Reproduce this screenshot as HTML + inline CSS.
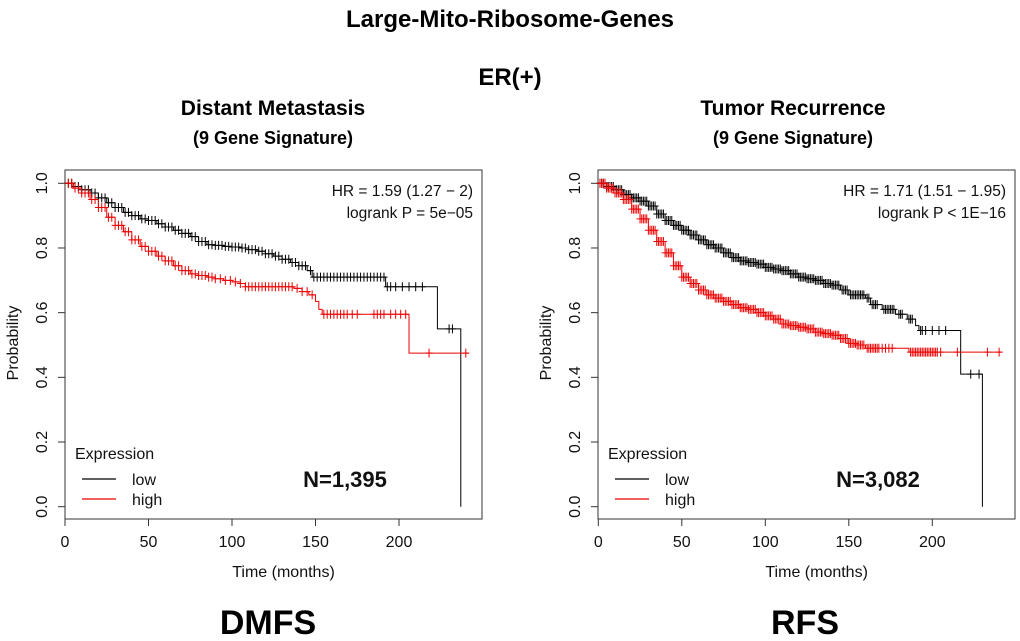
<!DOCTYPE html>
<html><head><meta charset="utf-8"><style>
body{margin:0;background:#fff;}
svg{display:block;font-family:"Liberation Sans",sans-serif;}
.b{font-weight:bold;}
</style></head><body>
<svg id="c" width="1020" height="641">
<text x="510" y="27" text-anchor="middle" class="b" font-size="24">Large-Mito-Ribosome-Genes</text>
<text x="510" y="85" text-anchor="middle" class="b" font-size="24">ER(+)</text>
<text x="273" y="115" text-anchor="middle" class="b" font-size="21">Distant Metastasis</text>
<text x="273" y="144" text-anchor="middle" class="b" font-size="18">(9 Gene Signature)</text>
<text x="793" y="115" text-anchor="middle" class="b" font-size="21">Tumor Recurrence</text>
<text x="793" y="144" text-anchor="middle" class="b" font-size="18">(9 Gene Signature)</text>
<text x="268" y="634" text-anchor="middle" class="b" font-size="34">DMFS</text>
<text x="805" y="634" text-anchor="middle" class="b" font-size="34">RFS</text>
</svg>
<script>
const xTicks=[0,50,100,150,200];
const yTicks=[0,0.2,0.4,0.6,0.8,1.0];
const yTickLabels=["0.0","0.2","0.4","0.6","0.8","1.0"];
// Left panel (DMFS)
const dmfsLowT=[0,5,10,15,20,25,30,35,40,45,50,55,60,65,70,75,80,85,90,95,100,105,110,115,120,125,130,135,140,145,148,192,223,237];
const dmfsLowS=[1,0.99,0.98,0.97,0.955,0.94,0.925,0.91,0.9,0.89,0.885,0.875,0.865,0.855,0.845,0.835,0.82,0.81,0.808,0.805,0.803,0.80,0.795,0.79,0.782,0.775,0.765,0.755,0.745,0.73,0.71,0.68,0.55,0];
const dmfsLowEnd=237;
const dmfsLowCens=[2,4,6,8,10,12,14,16,18,20,22,24,26,28,30,32,34,36,38,40,42,44,46,48,50,52,54,56,58,60,62,64,66,68,70,72,74,76,78,80,82,84,86,88,90,92,94,96,98,100,102,104,106,108,110,112,114,116,118,120,122,124,126,128,130,132,134,136,138,140,142,144,147,149,151,153,155,157,159,161,163,165,167,169,171,173,175,177,179,181,183,185,187,189,191,193,195,198,202,206,210,214,230,232];
const dmfsHighT=[0,5,10,15,20,25,30,35,40,45,50,55,60,65,70,75,80,85,90,95,100,105,108,137,142,146,150,152,154,206];
const dmfsHighS=[1,0.985,0.97,0.95,0.925,0.895,0.87,0.85,0.825,0.805,0.79,0.775,0.76,0.745,0.73,0.72,0.715,0.71,0.705,0.70,0.695,0.69,0.68,0.675,0.665,0.655,0.635,0.61,0.595,0.475];
const dmfsHighEnd=242;
const dmfsHighCens=[2,4,6,8,10,12,14,16,18,20,22,24,26,28,30,32,34,36,38,40,42,44,46,48,50,52,54,56,58,60,62,64,66,68,70,72,74,76,78,80,82,84,86,88,90,93,96,99,102,105,108,110,112,114,116,118,120,122,124,126,128,130,132,134,136,139,142,145,148,155,157,159,161,163,165,167,169,172,175,185,187,189,191,195,198,201,204,218,240];
// Right panel (RFS)
const rfsLowT=[0,5,10,15,20,25,30,35,40,45,50,55,60,65,70,75,80,85,90,95,100,105,110,115,120,125,130,135,140,145,150,160,163,170,178,185,190,192,217,230];
const rfsLowS=[1,0.99,0.98,0.965,0.955,0.945,0.93,0.905,0.885,0.87,0.855,0.84,0.825,0.81,0.80,0.785,0.77,0.76,0.755,0.75,0.74,0.735,0.73,0.72,0.71,0.705,0.70,0.69,0.685,0.67,0.655,0.645,0.625,0.61,0.595,0.58,0.56,0.545,0.41,0];
const rfsLowEnd=230;
const rfsLowCens=[1,2,3,4,5,6,7,8,9,10,11,12,13,14,15,16,17,18,19,20,21,22,23,24,25,26,27,28,29,30,31,32,33,34,35,36,37,38,39,40,41,42,43,44,45,46,47,48,49,50,51,52,53,54,55,56,57,58,59,60,61,62,63,64,65,66,67,68,69,70,71,72,73,74,75,76,77,78,79,80,81,82,83,84,85,86,87,88,89,90,91,92,93,94,95,96,97,98,99,100,101,102,103,104,105,106,107,108,109,110,111,112,113,114,115,116,117,118,119,120,121,122,123,124,125,126,127,128,129,130,131,132,133,134,135,136,137,138,139,140,141,142,143,144,146,147,148,149,151,152,153,154,155,156,157,158,159,161,162,164,165,166,167,171,172,173,174,175,176,177,180,181,182,186,187,188,193,194,196,200,204,208,223,228];
const rfsHighT=[0,5,10,15,20,25,30,35,40,45,50,55,60,65,70,75,80,85,90,95,100,105,110,115,120,125,130,135,140,145,150,155,160,186];
const rfsHighS=[1,0.985,0.97,0.95,0.92,0.89,0.855,0.82,0.785,0.745,0.71,0.69,0.67,0.655,0.645,0.635,0.625,0.615,0.61,0.60,0.59,0.58,0.565,0.56,0.555,0.55,0.54,0.535,0.53,0.52,0.505,0.50,0.49,0.478];
const rfsHighEnd=242;
const rfsHighCens=[1,2,3,4,5,6,7,8,9,10,11,12,13,14,15,16,17,18,19,20,21,22,23,24,25,26,27,28,29,30,31,32,33,34,35,36,37,38,39,40,41,42,43,44,45,46,47,48,49,50,51,52,53,54,55,56,57,58,59,60,61,62,63,64,65,66,67,68,69,70,71,72,73,74,75,76,77,78,79,80,81,82,83,84,85,86,87,88,89,90,91,92,93,94,95,96,97,98,99,100,101,102,103,104,105,106,107,108,109,110,111,112,113,114,115,116,117,118,119,120,121,122,123,124,125,126,127,128,129,130,131,132,133,134,135,136,137,138,139,140,141,142,143,144,145,146,147,148,149,150,151,152,153,154,155,156,157,158,159,161,162,163,164,165,166,167,168,170,172,174,176,187,188,189,190,191,192,193,194,195,196,197,198,199,200,201,202,203,205,215,233,240];

const NS="http://www.w3.org/2000/svg";
const svg=document.getElementById('c');
function mk(tag,attrs,parent){const e=document.createElementNS(NS,tag);for(const k in attrs)e.setAttribute(k,attrs[k]);(parent||svg).appendChild(e);return e;}

function panel(o){
  const g=mk('g',{});
  
  
  const X=t=>o.x0+t*(o.x200-o.x0)/200;
  const Y=s=>o.y0-s*(o.y0-o.y1);
  const box=mk('rect',{x:o.bl,y:170,width:o.br-o.bl,height:349,fill:'none',stroke:'#333','stroke-width':1},g);
  
  xTicks.forEach(v=>{
    const l=mk('line',{x1:X(v),x2:X(v),y1:519,y2:526,stroke:'#333'},g);
    
    const t=mk('text',{x:X(v),y:547,'text-anchor':'middle','font-size':16,fill:'#111'},g);t.textContent=v;
    
  });
  yTicks.forEach((v,i)=>{
    const l=mk('line',{x1:o.bl-7,x2:o.bl,y1:Y(v),y2:Y(v),stroke:'#333'},g);
    
    const t=mk('text',{x:0,y:0,'text-anchor':'middle','font-size':16,fill:'#111',transform:`translate(${o.bl-18},${Y(v)}) rotate(-90)`},g);t.textContent=yTickLabels[i];
    
  });
  let t=mk('text',{x:0,y:0,'text-anchor':'middle','font-size':16,fill:'#111',transform:`translate(${o.bl-47},${(Y(0)+Y(1))/2-2}) rotate(-90)`},g);t.textContent='Probability';
  
  t=mk('text',{x:(X(0)+o.br)/2+10,y:577,'text-anchor':'middle','font-size':16,fill:'#111'},g);t.textContent='Time (months)';
  
  t=mk('text',{x:o.br-9,y:196,'text-anchor':'end','font-size':15.5,fill:'#111'},g);t.textContent=o.hr;
  
  t=mk('text',{x:o.br-9,y:218,'text-anchor':'end','font-size':15.5,fill:'#111'},g);t.textContent=o.p;
  
  t=mk('text',{x:o.bl+10,y:459,'font-size':16,fill:'#111'},g);t.textContent='Expression';
  
  [['low','#000',479],['high','#e00',499]].forEach(([lab,col,yy])=>{
    const l=mk('line',{x1:o.bl+17,x2:o.bl+51,y1:yy,y2:yy,stroke:col,'stroke-width':1.2},g);
    
    const tt=mk('text',{x:o.bl+67,y:yy+6,'font-size':16,fill:'#111'},g);tt.textContent=lab;
    
  });
  t=mk('text',{x:o.bl+280,y:487,'text-anchor':'middle','font-size':22,'font-weight':'bold',fill:'#111'},g);t.textContent=o.n;
  
  o.series.forEach(s=>{
    let d=`M${X(s.T[0])},${Y(s.S[0])}`;
    for(let i=1;i<s.T.length;i++){d+=`H${X(s.T[i])}V${Y(s.S[i])}`;}
    if(s.end>s.T[s.T.length-1])d+=`H${X(s.end)}`;
    const p=mk('path',{d:d,fill:'none',stroke:s.col,'stroke-width':1},g);
    
    const sv=tt=>{let v=s.S[0];for(let i=0;i<s.T.length;i++){if(s.T[i]<=tt)v=s.S[i];}return v;};
    let cd='';
    s.C.forEach(c=>{const cx=X(c),cy=Y(sv(c));cd+=`M${cx-3.5},${cy}H${cx+3.5}M${cx},${cy-4.5}V${cy+4.5}`;});
    const cp=mk('path',{d:cd,fill:'none',stroke:s.col,'stroke-width':1},g);
    
  });
}
panel({name:'dmfs-panel',bl:65,br:482,x0:65,x200:399,y0:506.7,y1:183.3,hr:'HR = 1.59 (1.27 − 2)',p:'logrank P = 5e−05',n:'N=1,395',
  series:[{label:'low',col:'#000',T:dmfsLowT,S:dmfsLowS,end:dmfsLowEnd,C:dmfsLowCens},{label:'high',col:'#e00',T:dmfsHighT,S:dmfsHighS,end:dmfsHighEnd,C:dmfsHighCens}]});
panel({name:'rfs-panel',bl:598,br:1015,x0:598.3,x200:932.3,y0:506.7,y1:183.3,hr:'HR = 1.71 (1.51 − 1.95)',p:'logrank P < 1E−16',n:'N=3,082',
  series:[{label:'low',col:'#000',T:rfsLowT,S:rfsLowS,end:rfsLowEnd,C:rfsLowCens},{label:'high',col:'#e00',T:rfsHighT,S:rfsHighS,end:rfsHighEnd,C:rfsHighCens}]});
</script>
</body></html>
